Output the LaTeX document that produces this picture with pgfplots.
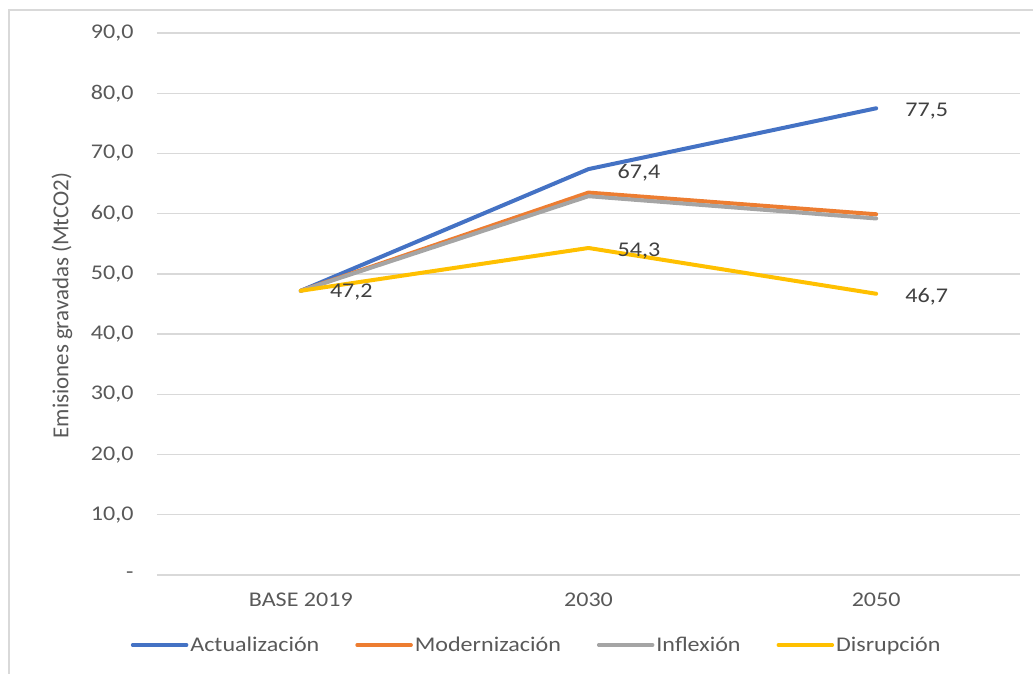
\documentclass[border=0pt]{standalone}
\usepackage{pgfplots}
\pgfplotsset{compat=1.18}
\usepackage{fontspec}
\setmainfont{Carlito}[FakeStretch=1.15]
\newfontfamily\labelfont{Carlito}
\definecolor{cBlue}{HTML}{4472C4}
\definecolor{cOrange}{HTML}{ED7D31}
\definecolor{cGray}{HTML}{A5A5A5}
\definecolor{cYellow}{HTML}{FFC000}
\definecolor{cGrid}{HTML}{D9D9D9}
\definecolor{cTick}{HTML}{595959}
\definecolor{cData}{HTML}{404040}
\begin{document}
\begin{tikzpicture}
\path[use as bounding box] (-157bp,-99bp) rectangle (876bp,575bp);
\draw[cGrid, line width=1.2bp] (-148bp,-130bp) rectangle (900bp,565bp);
\begin{axis}[
  scale only axis,
  width=863bp, height=542bp,
  xmin=-0.5, xmax=2.5, ymin=0, ymax=90,
  axis line style={draw=none},
  tick style={draw=none},
  ymajorgrids, grid style={cGrid, line width=1.3bp},
  xtick={0,1,2},
  xticklabels={BASE 2019,2030,2050},
  ytick={0,10,...,90},
  yticklabels={{-},{10,0},{20,0},{30,0},{40,0},{50,0},{60,0},{70,0},{80,0},{90,0}},
  ticklabel style={font=\fontsize{21}{24}\selectfont, text=cTick},
  xticklabel style={yshift=-14bp},
  yticklabel style={xshift=-20bp},
  ylabel={Emisiones gravadas (MtCO2)},
  ylabel style={at={(axis description cs:-0.110,0.497)}, anchor=center, font=\labelfont\fontsize{23}{26}\selectfont, text=cTick},
  legend columns=4,
  legend style={at={(axis description cs:-0.034,-0.129)}, anchor=west, draw=none, fill=none,
    font=\fontsize{21}{24}\selectfont, text=cTick,
    /tikz/every even column/.append style={column sep=34bp},
    nodes={inner sep=2bp}},
  legend image code/.code={\draw[#1, line width=3.5bp, line cap=round] (0bp,0bp) -- (54bp,0bp);},
  every axis plot/.append style={line width=4bp, line join=round, line cap=round, mark=none},
  clip=false,
]
\addplot[cBlue] coordinates {(0,47.2) (1,67.4) (2,77.5)};
\addlegendentry{Actualización}
\addplot[cOrange] coordinates {(0,47.2) (1,63.5) (2,59.9)};
\addlegendentry{Modernización}
\addplot[cGray] coordinates {(0,47.2) (1,62.9) (2,59.2)};
\addlegendentry{Inflexión}
\addplot[cYellow] coordinates {(0,47.2) (1,54.3) (2,46.7)};
\addlegendentry{Disrupción}
\begin{scope}[every node/.style={anchor=west, font=\fontsize{21}{24}\selectfont, text=cData, inner sep=0pt}]
\node[xshift=29bp, yshift=-1bp] at (axis cs:0,47.2) {47,2};
\node[xshift=29bp, yshift=-3.5bp] at (axis cs:1,67.4) {67,4};
\node[xshift=29bp, yshift=-3.5bp] at (axis cs:1,54.3) {54,3};
\node[xshift=29bp, yshift=-2.5bp] at (axis cs:2,77.5) {77,5};
\node[xshift=29bp, yshift=-3bp] at (axis cs:2,46.7) {46,7};
\end{scope}
\end{axis}
\end{tikzpicture}
\end{document}
